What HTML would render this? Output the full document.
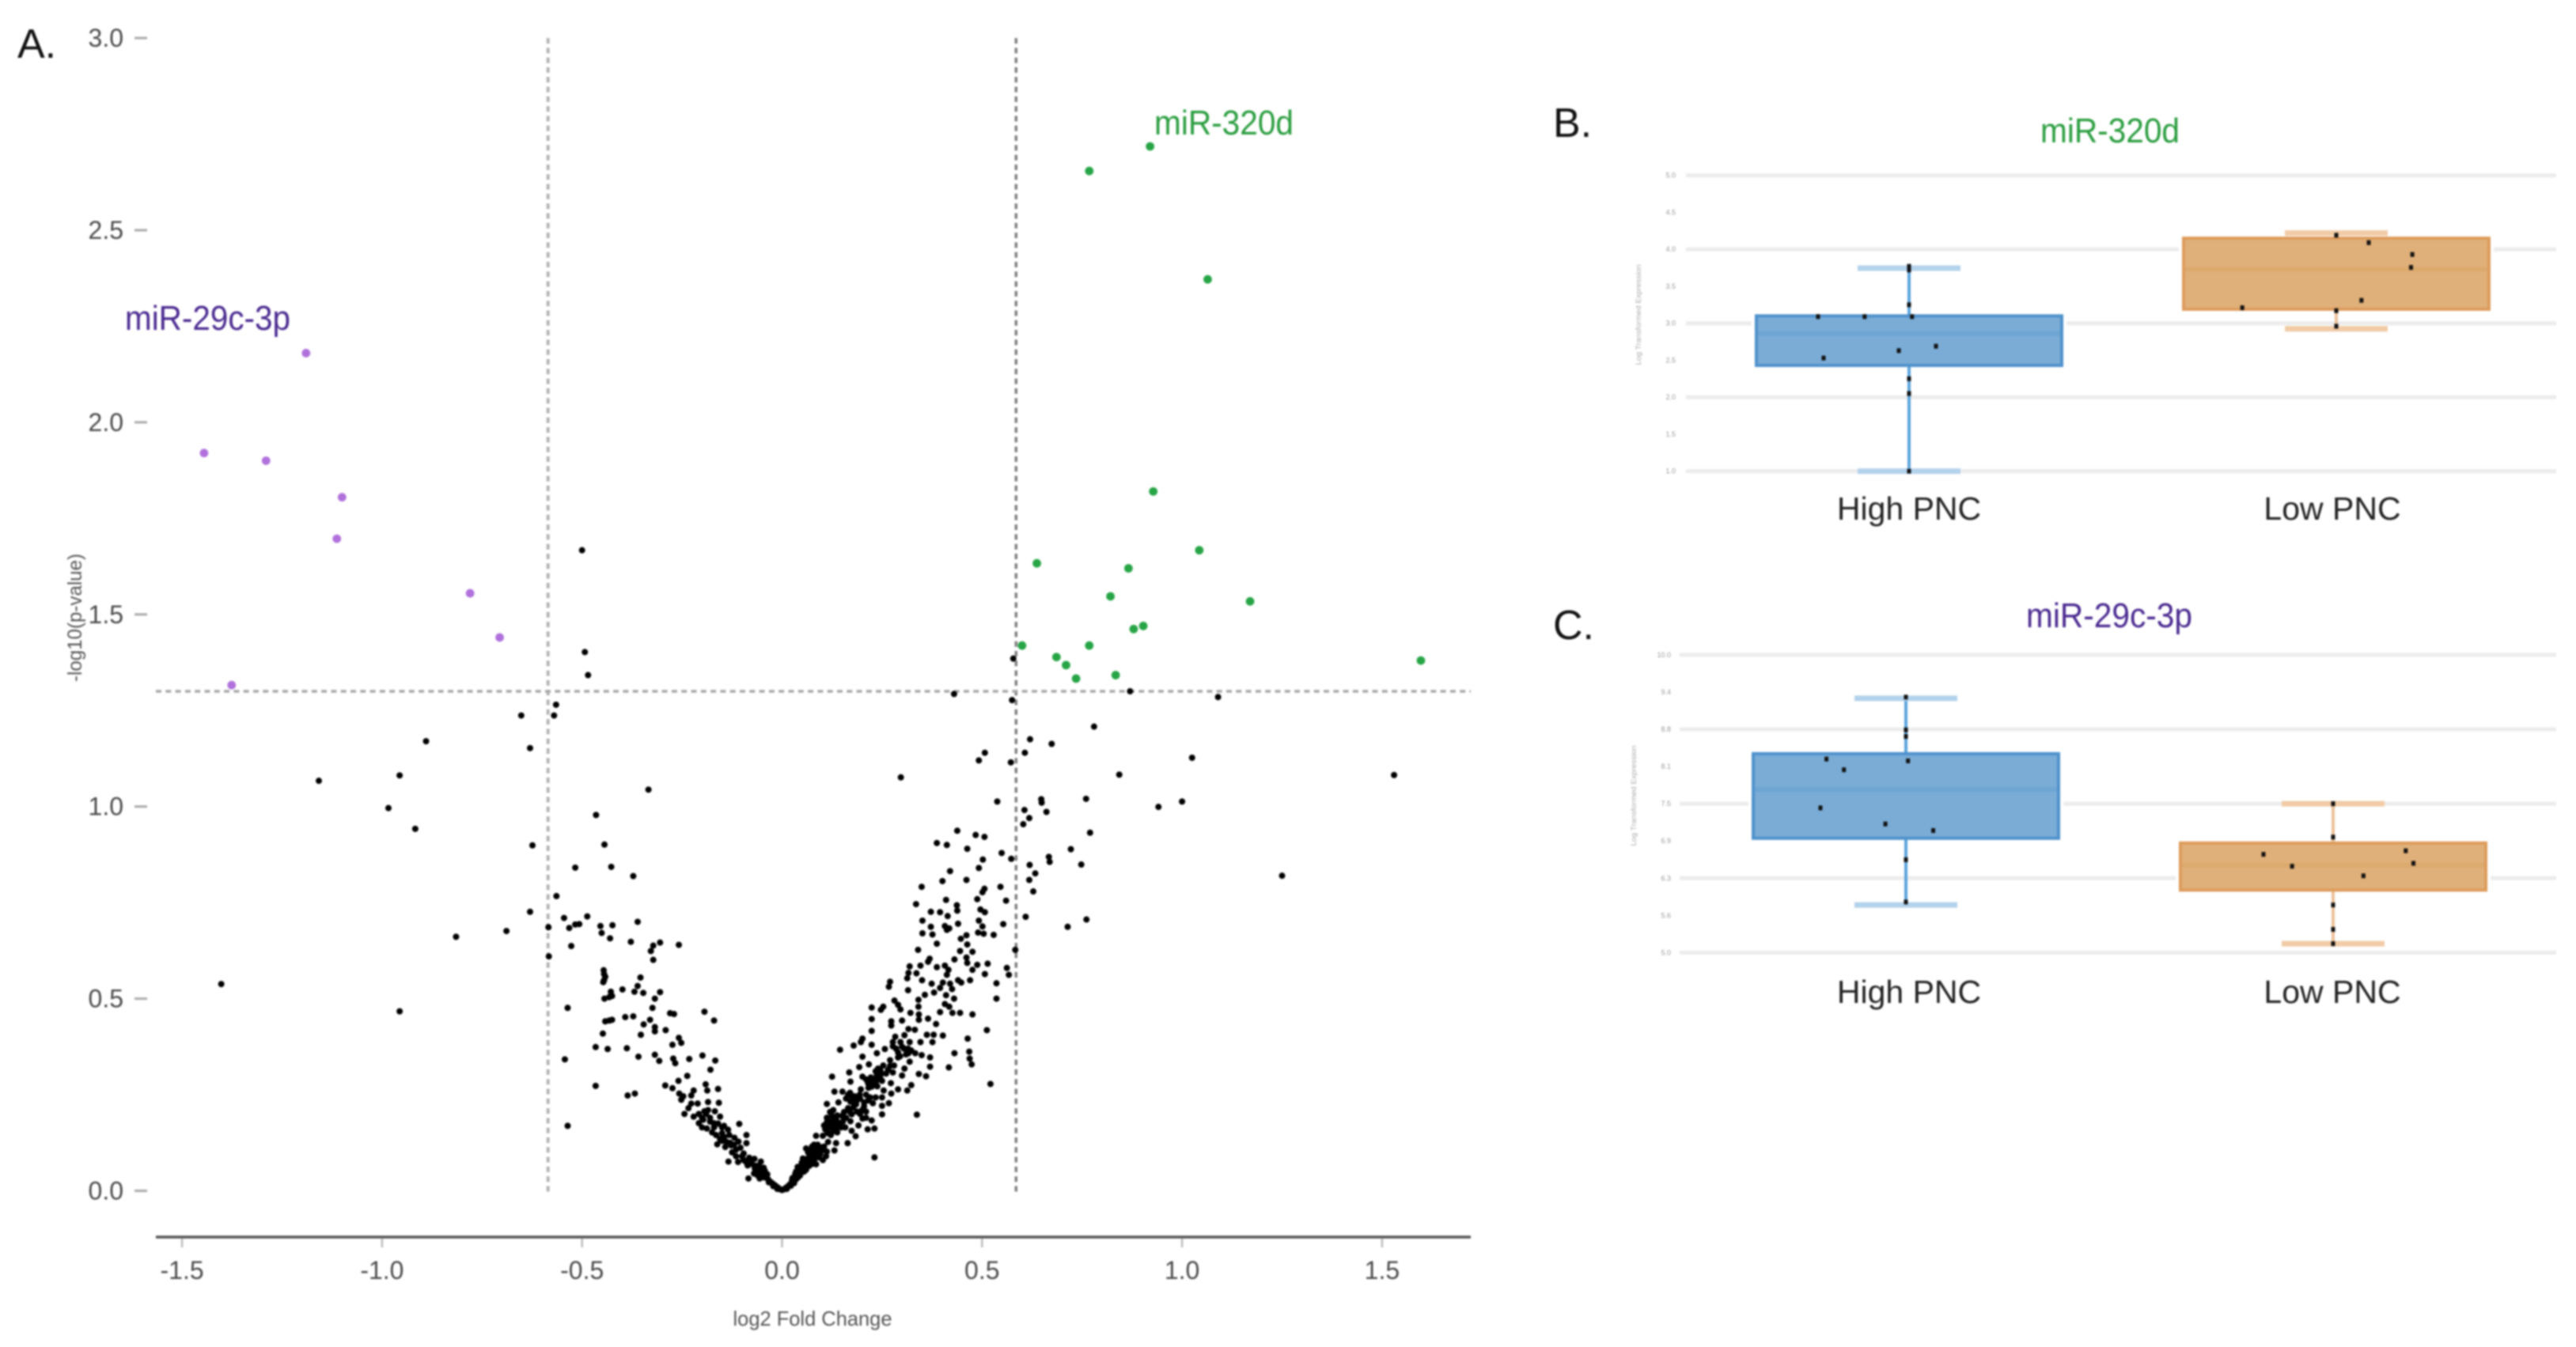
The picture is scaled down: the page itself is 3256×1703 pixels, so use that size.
<!DOCTYPE html>
<html lang="en">
<head>
<meta charset="utf-8">
<title>Volcano plot and box plots of miR-320d and miR-29c-3p</title>
<style>
html,body{margin:0;padding:0;background:#fff;width:3256px;height:1703px;overflow:hidden}
svg{display:block;font-family:"Liberation Sans",sans-serif;filter:blur(1px)}
</style>
</head>
<body>
<svg id="figure" xmlns="http://www.w3.org/2000/svg" width="3256" height="1703" viewBox="0 0 3256 1703">
  <g id="volcano"></g>
  <g id="boxB"></g>
  <g id="boxC"></g>
  <text x="22" y="73" font-size="52" fill="#111">A.</text>
  <text x="1963" y="173" font-size="52" fill="#111">B.</text>
  <text x="1963" y="808" font-size="52" fill="#111">C.</text>
  <text x="158" y="417" font-size="44" fill="#4a2a90" textLength="209" lengthAdjust="spacingAndGlyphs">miR-29c-3p</text>
  <text x="1459" y="170" font-size="44" fill="#2a9d3f" textLength="176" lengthAdjust="spacingAndGlyphs">miR-320d</text>
  <text x="1027" y="1676" font-size="26" fill="#555" text-anchor="middle" textLength="201" lengthAdjust="spacingAndGlyphs">log2 Fold Change</text>
  <text transform="translate(103,781) rotate(-90)" font-size="25" fill="#555" text-anchor="middle" textLength="162" lengthAdjust="spacingAndGlyphs">-log10(p-value)</text>
  <text x="2579" y="180" font-size="44" fill="#2a9d3f" textLength="176" lengthAdjust="spacingAndGlyphs">miR-320d</text>
  <text x="2561" y="793" font-size="44" fill="#4a2a90" textLength="210" lengthAdjust="spacingAndGlyphs">miR-29c-3p</text>
</svg>
<script>
// ---------- Volcano plot data: [log2 fold change, -log10 p-value] ----------
const xTickValues = [-1.5, -1.0, -0.5, 0.0, 0.5, 1.0, 1.5];
const xTickLabels = ['-1.5', '-1.0', '-0.5', '0.0', '0.5', '1.0', '1.5'];
const yTickValues = [0, 0.5, 1, 1.5, 2, 2.5, 3];
const yTickLabels = ['0.0', '0.5', '1.0', '1.5', '2.0', '2.5', '3.0'];
const foldCutoffs = [-0.585, 0.585];
const pCutoff = [1.3];

const downRegulated = [[-1.19,2.18],[-1.445,1.92],[-1.29,1.90],[-1.10,1.805],[-1.113,1.697],[-0.78,1.555],[-0.706,1.44],[-1.376,1.316]];

const upRegulated = [[0.92,2.718],[0.768,2.654],[1.064,2.372],[0.928,1.82],[0.637,1.633],[1.043,1.667],[0.866,1.62],[0.821,1.547],[1.17,1.534],[0.879,1.462],[0.903,1.47],[0.6,1.419],[0.768,1.419],[0.686,1.389],[0.71,1.368],[0.735,1.333],[0.834,1.342],[1.597,1.38]];

const nsUpperLeft = [[-0.5,1.667],[-0.493,1.402],[-0.485,1.342],[-0.565,1.265],[-0.57,1.237],[-0.652,1.237],[-0.63,1.152],[-0.89,1.17],[-0.956,1.081],[-1.158,1.067],[-0.984,0.996],[-0.917,0.942],[-0.624,0.899],[-0.334,1.044],[-0.465,0.978],[-0.444,0.901],[-0.427,0.843],[-0.517,0.841],[-0.372,0.819],[-0.564,0.767],[-0.63,0.726],[-0.689,0.676],[-0.815,0.661],[-1.402,0.538],[-0.956,0.467]];

const nsLeftArm = [[-0.584,0.686],[-0.583,0.61],[-0.545,0.71],[-0.487,0.714],[-0.532,0.684],[-0.517,0.693],[-0.507,0.694],[-0.454,0.689],[-0.451,0.671],[-0.43,0.657],[-0.424,0.691],[-0.361,0.7],[-0.378,0.648],[-0.527,0.637],[-0.258,0.64],[-0.305,0.646],[-0.322,0.638],[-0.328,0.624],[-0.322,0.601],
[-0.446,0.574],[-0.445,0.564],[-0.442,0.557],[-0.445,0.548],[-0.447,0.543],[-0.354,0.555],[-0.361,0.533],[-0.399,0.524],[-0.369,0.518],[-0.347,0.515],[-0.305,0.517],[-0.318,0.5],[-0.428,0.518],[-0.425,0.507],[-0.444,0.5],[-0.432,0.504],[-0.324,0.476],[-0.536,0.476],[-0.28,0.462],[-0.27,0.46],[-0.194,0.466],[-0.17,0.443],[-0.392,0.452],[-0.372,0.454],[-0.442,0.441],[-0.432,0.443],[-0.425,0.445],[-0.346,0.433],[-0.33,0.445],[-0.318,0.426],[-0.318,0.415],[-0.291,0.418],[-0.448,0.409],[-0.353,0.406],[-0.258,0.398],[-0.252,0.385],[-0.274,0.38],[-0.466,0.374],[-0.436,0.369],[-0.388,0.371],[-0.359,0.349],[-0.318,0.354],[-0.307,0.338],[-0.272,0.344],[-0.267,0.332],[-0.232,0.343],[-0.199,0.352],[-0.167,0.339],[-0.543,0.342],[-0.179,0.315],[-0.237,0.299],[-0.259,0.286],[-0.292,0.274],[-0.274,0.267],[-0.466,0.273],[-0.386,0.248],[-0.368,0.253],[-0.536,0.169],
[-0.191,0.277],[-0.187,0.261],[-0.16,0.265],[-0.257,0.253],[-0.247,0.246],[-0.227,0.248],[-0.221,0.261],[-0.252,0.237],[-0.185,0.231],[-0.158,0.229],[-0.227,0.227],[-0.211,0.227],[-0.234,0.215],[-0.244,0.2],[-0.221,0.193],[-0.208,0.2],[-0.194,0.207],[-0.185,0.21],[-0.168,0.207],[-0.155,0.193],[-0.208,0.176],[-0.188,0.162],[-0.171,0.176],[-0.175,0.152],[-0.145,0.169],[-0.135,0.159],[-0.107,0.174],[-0.155,0.135],[-0.162,0.121],[-0.142,0.114],[-0.119,0.138],[-0.089,0.145],[-0.089,0.124],[-0.132,0.145],[-0.109,0.128],[-0.125,0.1],[-0.115,0.107],[-0.134,0.076],[-0.096,0.097],[-0.082,0.086],[-0.069,0.083],[-0.096,0.08],[-0.086,0.066],[-0.084,0.032],[-0.053,0.076],[-0.053,0.059],[-0.043,0.052],[-0.056,0.032],[-0.049,0.038],[-0.14,0.128],[-0.127,0.118],[-0.104,0.112],[-0.1,0.09],[-0.076,0.07],[-0.068,0.058],[-0.06,0.05],[-0.062,0.041],[-0.046,0.06],[-0.037,0.043],[-0.15,0.15],[-0.197,0.185],[-0.18,0.19],[-0.2,0.165],
[-0.2,0.19],[-0.19,0.2],[-0.18,0.18],[-0.17,0.165],[-0.16,0.175],[-0.15,0.165],[-0.165,0.145],[-0.15,0.13],[-0.145,0.14],[-0.13,0.125],[-0.12,0.12],[-0.115,0.09],[-0.11,0.075],[-0.09,0.075],[-0.075,0.08],[-0.07,0.045],[-0.065,0.065],[-0.058,0.065],[-0.052,0.045],[-0.045,0.035]];

const nsVertex = [[-0.04,0.035],[-0.035,0.03],[-0.03,0.024],[-0.025,0.02],[-0.02,0.016],[-0.015,0.012],[-0.01,0.008],[-0.005,0.004],[0,0.002],[0.005,0.004],[0.01,0.008],[0.015,0.012],[0.02,0.017],[0.025,0.022],[-0.033,0.022],[-0.022,0.012],[-0.012,0.005],[0.012,0.005],[0.022,0.013],[0.03,0.02],[0.035,0.03],[0.04,0.035],[0.045,0.04]];

const nsRightArm = [[0.053,0.083],[0.026,0.033],[0.033,0.044],[0.039,0.062],[0.043,0.048],[0.049,0.073],[0.052,0.055],[0.052,0.084],[0.062,0.062],[0.069,0.077],[0.075,0.095],[0.082,0.102],[0.085,0.069],[0.089,0.12],[0.092,0.087],[0.099,0.113],[0.102,0.08],[0.112,0.102],[0.115,0.127],[0.131,0.105],[0.135,0.124],[0.164,0.124],[0.231,0.087],
[0.085,0.143],[0.102,0.143],[0.122,0.145],[0.184,0.142],[0.112,0.156],[0.138,0.152],[0.174,0.156],[0.122,0.174],[0.145,0.174],[0.191,0.17],[0.128,0.163],[0.158,0.165],[0.214,0.16],[0.231,0.162],[0.138,0.196],[0.174,0.199],[0.135,0.185],[0.201,0.188],[0.171,0.181],[0.224,0.183],[0.178,0.217],[0.128,0.21],[0.187,0.206],[0.21,0.206],[0.25,0.199],[0.337,0.198],[0.112,0.226],[0.141,0.23],[0.171,0.232],[0.187,0.235],[0.227,0.228],[0.267,0.228],[0.25,0.221],[0.181,0.246],[0.194,0.25],[0.22,0.243],[0.234,0.243],[0.25,0.243],[0.131,0.258],[0.151,0.258],[0.197,0.264],[0.224,0.271],[0.254,0.261],[0.29,0.264],[0.313,0.261],[0.273,0.253],[0.171,0.284],[0.201,0.297],[0.22,0.286],[0.234,0.282],[0.25,0.286],[0.272,0.28],[0.323,0.275],[0.521,0.278],[0.168,0.308],[0.125,0.297],[0.234,0.311],[0.247,0.304],[0.277,0.308],[0.3,0.3],[0.342,0.304],[0.36,0.298],[0.217,0.329],[0.193,0.322],[0.28,0.326],[0.306,0.318],[0.37,0.323],[0.417,0.321],[0.253,0.326],[0.201,0.349],[0.37,0.347],[0.29,0.347],[0.27,0.34],[0.319,0.336],[0.257,0.369],[0.237,0.358],[0.323,0.365],[0.333,0.358],[0.349,0.353],[0.316,0.358],[0.431,0.358],[0.468,0.362],[0.469,0.344],[0.474,0.329],[0.145,0.367],[0.277,0.387],[0.296,0.387],[0.277,0.376],[0.319,0.387],[0.346,0.387],[0.376,0.387],[0.201,0.396],[0.179,0.378],[0.197,0.387],[0.224,0.38],[0.306,0.405],[0.362,0.406],[0.379,0.406],[0.402,0.404],[0.283,0.401],[0.464,0.396],[0.512,0.418],[0.224,0.416],[0.316,0.421],[0.332,0.419],[0.224,0.447],[0.273,0.441],[0.3,0.443],[0.273,0.43],[0.342,0.445],[0.365,0.448],[0.385,0.434],[0.321,0.463],[0.342,0.459],[0.395,0.465],[0.426,0.463],[0.445,0.463],[0.476,0.459],[0.341,0.479],[0.407,0.486],[0.418,0.479],[0.224,0.477],[0.253,0.479],[0.247,0.471],[0.281,0.495],[0.29,0.484],[0.296,0.472],[0.341,0.497],[0.43,0.5],[0.536,0.5],[0.395,0.528],[0.425,0.525],[0.357,0.51],[0.38,0.516],[0.41,0.509],[0.27,0.544],[0.267,0.531],[0.315,0.522],[0.313,0.553],[0.35,0.548],[0.44,0.548],[0.448,0.542],[0.47,0.548],[0.374,0.539],[0.402,0.542],[0.42,0.539],[0.536,0.54],[0.387,0.582],[0.407,0.586],[0.416,0.575],[0.412,0.562],[0.507,0.564],[0.562,0.58],[0.567,0.562],[0.514,0.591],[0.488,0.588],[0.476,0.575],[0.346,0.586],[0.319,0.584],[0.316,0.567],[0.336,0.566],[0.461,0.607],[0.431,0.602],[0.463,0.593],[0.369,0.604],[0.365,0.596],[0.34,0.627],[0.445,0.624],[0.476,0.622],[0.583,0.627],[0.351,0.67],[0.376,0.667],[0.49,0.672],[0.504,0.669],[0.529,0.666],[0.461,0.665],[0.447,0.656],[0.463,0.641],[0.387,0.643],[0.372,0.687],[0.407,0.689],[0.412,0.679],[0.418,0.683],[0.501,0.688],[0.714,0.687],[0.761,0.706],[0.351,0.703],[0.492,0.703],[0.44,0.695],[0.553,0.694],[0.372,0.726],[0.395,0.725],[0.414,0.715],[0.496,0.732],[0.507,0.725],[0.609,0.713],[0.335,0.746],[0.437,0.743],[0.438,0.729],[0.488,0.759],[0.41,0.757],[0.56,0.755],[0.349,0.791],[0.546,0.791],[0.506,0.786],[0.501,0.777],[0.628,0.779],[0.42,0.832],[0.401,0.806],[0.461,0.809],[0.492,0.84],[0.633,0.826],[0.618,0.809],[0.619,0.848],[0.748,0.849],[0.667,0.869],[0.669,0.856],[0.722,0.889],[0.549,0.879],[0.573,0.864],[0.502,0.862],[0.387,0.905],[0.412,0.9],[0.463,0.89],[0.438,0.937],[0.484,0.926],[0.506,0.921],[0.77,0.932],[0.606,0.991],[0.661,0.986],[0.618,0.97],[0.603,0.954],[0.538,1.013],[0.648,1.019],[0.649,1.01],[0.76,1.02],[0.941,0.999],[1.0,1.013]];

const nsDenseRight = [[0.112,0.19],[0.118,0.18],[0.125,0.195],[0.13,0.185],[0.118,0.165],[0.125,0.175],[0.133,0.17],[0.14,0.178],[0.108,0.16],[0.115,0.15],[0.128,0.155],[0.135,0.16],[0.105,0.17],[0.112,0.178],[0.12,0.205],[0.148,0.165],[0.152,0.18],
[0.21,0.29],[0.215,0.28],[0.222,0.295],[0.23,0.29],[0.237,0.3],[0.24,0.29],[0.245,0.295],[0.228,0.275],[0.238,0.272],[0.246,0.312],[0.24,0.318],[0.216,0.268],
[0.16,0.24],[0.165,0.25],[0.17,0.255],[0.175,0.245],[0.18,0.23],[0.185,0.225],[0.195,0.24],[0.205,0.23],[0.21,0.25],[0.215,0.235],[0.205,0.22],[0.2,0.21],[0.195,0.2],[0.21,0.19],[0.165,0.215],[0.17,0.205],[0.15,0.195],[0.155,0.205],[0.16,0.19],
[0.285,0.37],[0.29,0.36],[0.295,0.35],[0.3,0.375],[0.305,0.37],[0.31,0.355],[0.315,0.37],[0.265,0.315],[0.27,0.325],[0.26,0.305],
[0.06,0.11],[0.065,0.1],[0.07,0.105],[0.075,0.115],[0.08,0.12],[0.085,0.11],[0.09,0.1],[0.095,0.095],[0.1,0.105],[0.105,0.115],[0.11,0.09],[0.08,0.08],[0.088,0.09],[0.065,0.085],[0.072,0.088],[0.058,0.075],[0.048,0.062],[0.055,0.068],[0.045,0.055],[0.035,0.05],[0.04,0.04],[0.03,0.035],[0.033,0.032],[0.025,0.028],[0.055,0.05],[0.06,0.055],[0.068,0.065],[0.075,0.07]];

const nsUpperRight = [[0.297,1.076],[0.492,1.12],[0.507,1.14],[0.572,1.115],[0.607,1.14],[0.62,1.175],[0.674,1.163],[0.78,1.208],[0.843,1.083],[1.025,1.127],[1.53,1.082],[1.25,0.82],[1.09,1.285],[0.87,1.3],[0.43,1.293],[0.575,1.277],[0.578,1.385]];

// ---------- Box plot data ----------
const boxCategories = ['High PNC', 'Low PNC'];
const mir320TickValues = [1, 1.5, 2, 2.5, 3, 3.5, 4, 4.5, 5];
const mir320TickLabels = ['1.0', '1.5', '2.0', '2.5', '3.0', '3.5', '4.0', '4.5', '5.0'];
const mir320Gridlines = [1, 2, 3, 4, 5];
const mir320Q1 = [2.43, 3.19];
const mir320Median = [2.86, 3.73];
const mir320Q3 = [3.10, 4.15];
const mir320WhiskerLow = [1.0, 2.925];
const mir320WhiskerHigh = [3.745, 4.22];
const mir320HighValues = [3.09, 3.09, 3.09, 3.25, 3.77, 3.72, 2.53, 2.63, 2.69, 2.25, 2.05, 1.0];
const mir320HighJitter = [-0.213, -0.104, 0.007, 0, 0, 0, -0.2, -0.024, 0.063, 0, 0, 0];
const mir320LowValues = [4.19, 4.09, 3.93, 3.755, 3.31, 3.21, 3.17, 2.96];
const mir320LowJitter = [0, 0.076, 0.178, 0.175, 0.059, -0.22, 0, 0];

const mir29TickValues = [5, 5.625, 6.25, 6.875, 7.5, 8.125, 8.75, 9.375, 10];
const mir29TickLabels = ['5.0', '5.6', '6.3', '6.9', '7.5', '8.1', '8.8', '9.4', '10.0'];
const mir29Gridlines = [5, 6.25, 7.5, 8.75, 10];
const mir29Q1 = [6.92, 6.05];
const mir29Median = [7.74, 6.47];
const mir29Q3 = [8.34, 6.84];
const mir29WhiskerLow = [5.80, 5.15];
const mir29WhiskerHigh = [9.27, 7.5];
const mir29HighValues = [8.25, 8.07, 8.22, 7.43, 7.16, 7.05, 9.29, 8.74, 8.63, 6.56, 5.85];
const mir29HighJitter = [-0.186, -0.145, 0.005, -0.2, -0.048, 0.064, 0, 0, 0, 0, 0];
const mir29LowValues = [7.5, 6.94, 6.65, 6.71, 6.45, 6.5, 6.29, 5.8, 5.39, 5.15];
const mir29LowJitter = [0, 0, -0.163, 0.17, -0.096, 0.188, 0.071, 0, 0, 0];

// ---------- Helpers ----------
const NS = 'http://www.w3.org/2000/svg';
function make(parent, tag, attrs, text) {
  const el = document.createElementNS(NS, tag);
  for (const k in attrs) el.setAttribute(k, attrs[k]);
  if (text !== undefined) el.textContent = text;
  parent.appendChild(el);
  return el;
}

// ---------- Volcano plot ----------
const volcano = document.getElementById('volcano');
const scaleX = v => 988.5 + v * 505.6;
const scaleY = v => 1505.5 - v * 485.8;

foldCutoffs.forEach(function (c, i) {
  const line = make(volcano, 'line', {x1: scaleX(c), x2: scaleX(c), y1: scaleY(3), y2: scaleY(-0.004), stroke: i === 0 ? '#b4b4b4' : '#808080', 'stroke-width': i === 0 ? 4 : 3.5, 'stroke-dasharray': '7 5.3'});
  
  
});
pCutoff.forEach(function (c) {
  const line = make(volcano, 'line', {x1: 197, x2: 1859, y1: scaleY(c), y2: scaleY(c), stroke: '#a8a8a8', 'stroke-width': 3.5, 'stroke-dasharray': '7 5.3'});
  
  
});

const xAxisLine = make(volcano, 'line', {x1: 197, x2: 1859, y1: 1564, y2: 1564, stroke: '#555', 'stroke-width': 3.5});



xTickValues.forEach(function (v, i) {
  const tick = make(volcano, 'line', {x1: scaleX(v), x2: scaleX(v), y1: 1566, y2: 1577, stroke: '#bbb', 'stroke-width': 2.5});
  
  
  const label = make(volcano, 'text', {x: scaleX(v), y: 1617, 'font-size': 32, fill: '#4a4a4a', 'text-anchor': 'middle'}, xTickLabels[i]);
  
  
});
yTickValues.forEach(function (v, i) {
  const tick = make(volcano, 'line', {x1: 170, x2: 186, y1: scaleY(v), y2: scaleY(v), stroke: '#aaa', 'stroke-width': 3});
  
  
  const label = make(volcano, 'text', {x: 156, y: scaleY(v) + 11, 'font-size': 32, fill: '#4a4a4a', 'text-anchor': 'end'}, yTickLabels[i]);
  
  
});

function plotGenes(points, color, radius, name) {
  points.forEach(function (p) {
    const dot = make(volcano, 'circle', {cx: scaleX(p[0]), cy: scaleY(p[1]), r: radius, fill: color});
    
    
  });
}
plotGenes(nsUpperLeft, '#000', 4, 'gene-point-not-significant');
plotGenes(nsLeftArm, '#000', 4, 'gene-point-not-significant');
plotGenes(nsVertex, '#000', 4, 'gene-point-not-significant');
plotGenes(nsRightArm, '#000', 4, 'gene-point-not-significant');
plotGenes(nsDenseRight, '#000', 4, 'gene-point-not-significant');
plotGenes(nsUpperRight, '#000', 4, 'gene-point-not-significant');
plotGenes(downRegulated, '#b071dc', 5.4, 'gene-point-down-regulated');
plotGenes(upRegulated, '#27a546', 5.4, 'gene-point-up-regulated');

// ---------- Box plots ----------
const palettes = [
  {fill: '#7aacd6', edge: '#4f92cc', median: '#6ea5d3', whisker: '#5ba3dc', cap: '#b3d2ec'},
  {fill: '#e0b07a', edge: '#dd9c5c', median: '#dcaa6e', whisker: '#ecc097', cap: '#f1cba6'}
];

function drawBoxPlot(cfg) {
  const g = document.getElementById(cfg.id);
  const y = v => cfg.y0 - (v - cfg.vMin) * cfg.pxPerUnit;
  const xBand = pos => cfg.centers[0] + pos * 540;

  cfg.gridlines.forEach(function (v) {
    const grid = make(g, 'line', {x1: cfg.gridLeft, x2: 3231, y1: y(v), y2: y(v), stroke: '#ececec', 'stroke-width': 5});
    
    
  });
  cfg.tickValues.forEach(function (v, i) {
    const label = make(g, 'text', {x: cfg.tickRight, y: y(v) + 3, 'font-size': 9, fill: '#999', 'text-anchor': 'end'}, cfg.tickLabels[i]);
    
    
  });
  const yTitle = make(g, 'text', {transform: 'translate(' + cfg.titleX + ',' + cfg.titleY + ') rotate(-90)', 'font-size': 9, fill: '#aaa', 'text-anchor': 'middle', textLength: 127, lengthAdjust: 'spacingAndGlyphs'}, 'Log Transformed Expression');
  
  

  boxCategories.forEach(function (name, i) {
    const c = palettes[i];
    const cx = cfg.centers[i];
    const halo = make(g, 'rect', {x: cx - 193, y: y(cfg.q3[i]), width: 386, height: y(cfg.q1[i]) - y(cfg.q3[i]), fill: '#fff', stroke: '#fff', 'stroke-width': 12});
    
    
    const whisker = make(g, 'line', {x1: cx, x2: cx, y1: y(cfg.low[i]), y2: y(cfg.high[i]), stroke: c.whisker, 'stroke-width': 4});
    
    
    [cfg.low[i], cfg.high[i]].forEach(function (v) {
      const cap = make(g, 'rect', {x: cx - 65, y: y(v) - 3.5, width: 130, height: 7, fill: c.cap});
      
      
    });
    const box = make(g, 'rect', {x: cx - 193, y: y(cfg.q3[i]), width: 386, height: y(cfg.q1[i]) - y(cfg.q3[i]), fill: c.fill, stroke: c.edge, 'stroke-width': 4});
    
    
    const median = make(g, 'line', {x1: cx - 191, x2: cx + 191, y1: y(cfg.median[i]), y2: y(cfg.median[i]), stroke: c.median, 'stroke-width': 6});
    
    
    const cat = make(g, 'text', {x: cfg.labelCenters[i], y: cfg.catY, 'font-size': 41, fill: '#222', 'text-anchor': 'middle'}, name);
    
    
  });

  cfg.series.forEach(function (s, i) {
    s.values.forEach(function (v, k) {
      const dot = make(g, 'rect', {x: xBand(i + s.jitter[k]) - 2.5, y: y(v) - 3, width: 5, height: 6, fill: '#111'});
      
      
    });
  });
}

drawBoxPlot({
  id: 'boxB', y0: 595.7, vMin: 1, pxPerUnit: 93.5, centers: [2413, 2953], labelCenters: [2413, 2948], gridLeft: 2131, tickRight: 2118,
  titleX: 2074, titleY: 398, catY: 657,
  gridlines: mir320Gridlines, tickValues: mir320TickValues, tickLabels: mir320TickLabels,
  q1: mir320Q1, median: mir320Median, q3: mir320Q3, low: mir320WhiskerLow, high: mir320WhiskerHigh,
  series: [{values: mir320HighValues, jitter: mir320HighJitter}, {values: mir320LowValues, jitter: mir320LowJitter}]
});
drawBoxPlot({
  id: 'boxC', y0: 1204.4, vMin: 5, pxPerUnit: 75.3, centers: [2409, 2949], labelCenters: [2413, 2948], gridLeft: 2123, tickRight: 2112,
  titleX: 2068, titleY: 1006, catY: 1268,
  gridlines: mir29Gridlines, tickValues: mir29TickValues, tickLabels: mir29TickLabels,
  q1: mir29Q1, median: mir29Median, q3: mir29Q3, low: mir29WhiskerLow, high: mir29WhiskerHigh,
  series: [{values: mir29HighValues, jitter: mir29HighJitter}, {values: mir29LowValues, jitter: mir29LowJitter}]
});
</script>
</body>
</html>
